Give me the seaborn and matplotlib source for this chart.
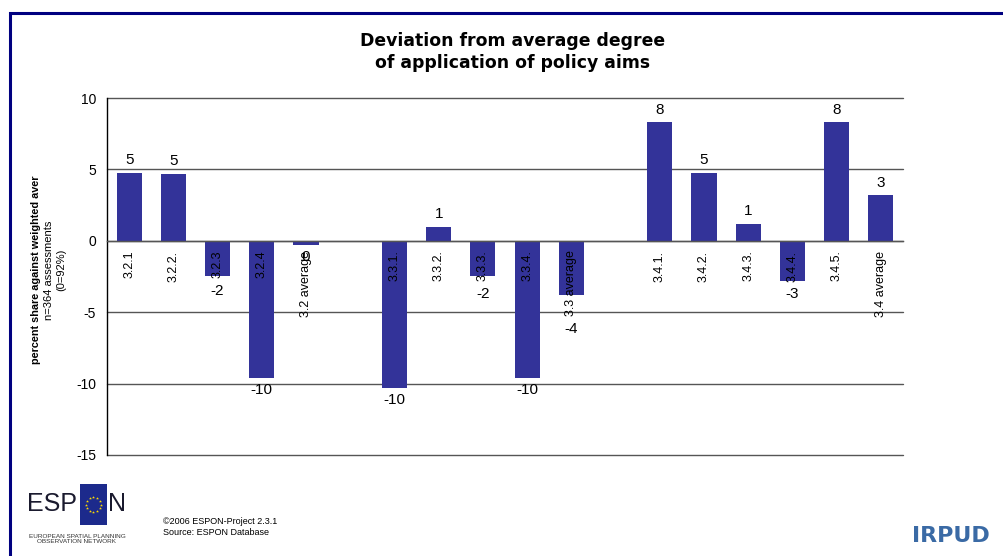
import numpy as np
import pandas as pd
import seaborn as sns
import matplotlib.pyplot as plt
from matplotlib.patches import Rectangle

# %% Data

categories = ['3.2.1', '3.2.2.', '3.2.3', '3.2.4', '3.2 average', '',
              '3.3.1.', '3.3.2.', '3.3.3.', '3.3.4.', '3.3 average', ' ',
              '3.4.1.', '3.4.2.', '3.4.3.', '3.4.4.', '3.4.5.', '3.4 average']
deviation = [4.75, 4.7, -2.45, -9.6, -0.28, np.nan,
             -10.3, 1.0, -2.45, -9.6, -3.8, np.nan,
             8.3, 4.75, 1.2, -2.85, 8.3, 3.2]
y_ticks = [10, 5, 0, -5, -10, -15]

df = pd.DataFrame({'category': categories, 'deviation': deviation})

# %% Figure

sns.set_style('white')
plt.rcParams['font.family'] = ['Liberation Sans', 'DejaVu Sans']
plt.rcParams['text.color'] = 'black'
plt.rcParams['xtick.color'] = 'black'
plt.rcParams['ytick.color'] = 'black'
plt.rcParams['axes.labelcolor'] = 'black'

fig = plt.figure(figsize=(10.04, 5.56), dpi=100)
W, H = 1004, 556
ax = fig.add_axes([107 / W, 1 - 455 / H, (903 - 107) / W, (455 - 98) / H])

sns.barplot(data=df, x='category', y='deviation', order=categories,
            color='#333399', saturation=1, width=0.57, linewidth=0,
            edgecolor='none', ax=ax)

ax.set_axisbelow(False)   # category text sits on top of the bars
ax.set_ylim(-15, 10)
ax.set_xlim(-0.5, len(categories) - 0.5)
ax.set_yticks(y_ticks)
ax.set_yticklabels([str(t) for t in y_ticks], fontsize=10)
ax.tick_params(axis='y', length=5, width=0.8, color='black', pad=3)
for t in y_ticks:
    ax.axhline(t, color='#555555', linewidth=1, zorder=0.5, clip_on=False)

for s in ['top', 'right']:
    ax.spines[s].set_visible(False)
ax.spines['left'].set_color('black')
ax.spines['left'].set_linewidth(1)
ax.spines['bottom'].set_position(('data', 0))
ax.spines['bottom'].set_color('#555555')
ax.spines['bottom'].set_linewidth(1)

# category labels at the zero line, boundary ticks
ax.set_xticks(range(len(categories)))
ax.set_xticklabels(categories, rotation=90, fontsize=9)
ax.tick_params(axis='x', length=0, pad=7)
ax.set_xticks(np.arange(-0.5, len(categories)), minor=True)
ax.tick_params(axis='x', which='minor', length=4, width=0.8, color='#333333')
ax.set_xlabel('')
ax.set_ylabel('')

# data labels: negative ones go below the bar or the category text
fig.canvas.draw()
inv = ax.transData.inverted()
tick_ends = [inv.transform((0, lab.get_window_extent().y0))[1]
             for lab in ax.get_xticklabels()]
for i, v in enumerate(deviation):
    if np.isnan(v):
        continue
    shown = int(round(v))
    if v >= 0:
        ax.annotate(str(shown), (i, v), xytext=(0, 4), textcoords='offset points',
                    ha='center', va='bottom', fontsize=11)
    else:
        y0 = min(v, tick_ends[i]) if shown != 0 else v
        ax.annotate(str(shown), (i, y0), xytext=(0, -4), textcoords='offset points',
                    ha='center', va='top', fontsize=11)

# %% Titles and texts

fig.text(513 / W, 1 - 52 / H, 'Deviation from average degree\nof application of policy aims',
         ha='center', va='center', fontsize=12.4, fontweight='bold',
         family='DejaVu Sans', linespacing=1.35)

fig.text(36 / W, 1 - 270 / H, 'percent share against weighted aver',
         rotation=90, ha='center', va='center', fontsize=7.8, fontweight='bold')
fig.text(49 / W, 1 - 270 / H, 'n=364 assessments', rotation=90,
         ha='center', va='center', fontsize=8)
fig.text(61 / W, 1 - 270 / H, '(0=92%)', rotation=90,
         ha='center', va='center', fontsize=8)

# frame
fig.patches.append(Rectangle((10 / W, -0.1), 1.2, 1.1 - 13 / H,
                             transform=fig.transFigure, fill=False,
                             edgecolor='#000080', linewidth=2.2, clip_on=False))

# ESPON logo
fig.text(27 / W, 1 - 504 / H, 'ESP', ha='left', va='center', fontsize=18,
         color='#1a1a2e')
fig.text(108 / W, 1 - 504 / H, 'N', ha='left', va='center', fontsize=18,
         color='#1a1a2e')
flag = fig.add_axes([80 / W, 1 - 525 / H, 27 / W, 41 / H])
flag.set_facecolor('#1c2a8c')
flag.set_xlim(-1, 1)
flag.set_ylim(-1.5, 1.5)
ang = np.linspace(0, 2 * np.pi, 13)[:-1]
flag.scatter(0.55 * np.cos(ang), 0.55 * np.sin(ang), marker='*', s=5,
             color='#ffdd00', linewidths=0)
flag.set_xticks([])
flag.set_yticks([])
for s in flag.spines.values():
    s.set_visible(False)
fig.text(77 / W, 1 - 539 / H, 'EUROPEAN SPATIAL PLANNING\nOBSERVATION NETWORK',
         ha='center', va='center', fontsize=4.6, color='#333333', linespacing=1.1)

fig.text(163 / W, 1 - 527 / H, '\u00a92006 ESPON-Project 2.3.1\nSource: ESPON Database',
         ha='left', va='center', fontsize=6.5, linespacing=1.3)

fig.text(912 / W, 1 - 536 / H, 'IRPUD', ha='left', va='center', fontsize=16,
         fontweight='bold', color='#3a6aa5', family='DejaVu Sans')

fig.savefig('out.png', dpi=100)
